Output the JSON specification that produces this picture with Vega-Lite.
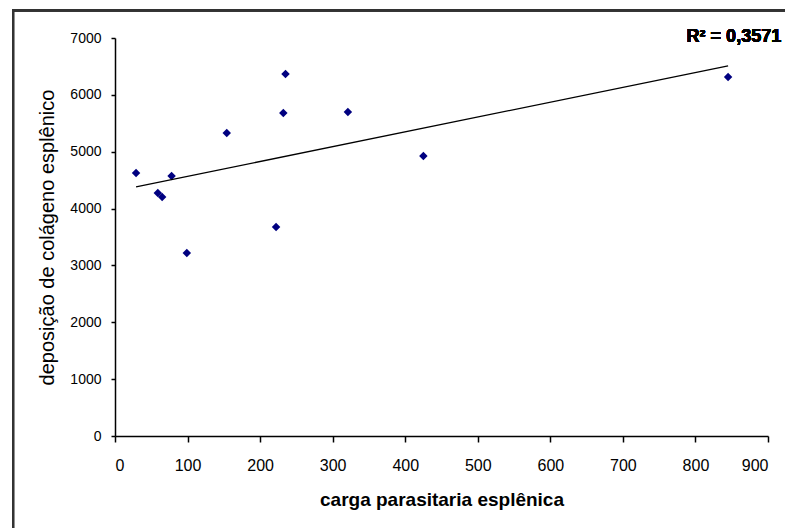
{
  "$schema": "https://vega.github.io/schema/vega-lite/v6.json",
  "width": 653,
  "height": 398,
  "autosize": {"type": "none"},
  "padding": {"left": 115, "top": 38, "right": 17, "bottom": 92},
  "background": "white",
  "config": {
    "view": {"stroke": null},
    "font": "Liberation Sans",
    "axis": {
      "domainColor": "#000000",
      "domainWidth": 1.5,
      "tickColor": "#000000",
      "tickWidth": 1.5,
      "labelColor": "#000000",
      "titleColor": "#000000",
      "labelFont": "Liberation Sans",
      "titleFont": "Liberation Sans",
      "grid": false
    }
  },
  "data": {
    "values": [
      {"carga": 29, "colageno": 4625},
      {"carga": 59, "colageno": 4274},
      {"carga": 65, "colageno": 4204},
      {"carga": 78, "colageno": 4573},
      {"carga": 99, "colageno": 3218},
      {"carga": 154, "colageno": 5329},
      {"carga": 222, "colageno": 3676},
      {"carga": 232, "colageno": 5680},
      {"carga": 235, "colageno": 6366},
      {"carga": 321, "colageno": 5698},
      {"carga": 425, "colageno": 4924},
      {"carga": 845, "colageno": 6314}
    ]
  },
  "layer": [
    {
      "mark": {"type": "rect", "fill": null, "stroke": "#333333", "strokeWidth": 2, "clip": false},
      "encoding": {
        "x": {"datum": -140.5, "type": "quantitative", "scale": {"domain": [0, 900]}},
        "x2": {"datum": 1000},
        "y": {"datum": 7490, "type": "quantitative", "scale": {"domain": [0, 7000]}},
        "y2": {"datum": -2000}
      }
    },
    {
      "mark": {"type": "point", "shape": "diamond", "filled": true, "color": "#000080", "size": 72, "opacity": 1},
      "encoding": {
        "x": {
          "field": "carga",
          "type": "quantitative",
          "scale": {"domain": [0, 900], "nice": false, "zero": true},
          "axis": {
            "values": [0, 100, 200, 300, 400, 500, 600, 700, 800, 900],
            "format": "d",
            "title": "carga parasitaria esplênica",
            "labelFontSize": 16,
            "tickSize": 6,
            "labelPadding": 15,
            "titleFontSize": 19,
            "titleFontWeight": "bold",
            "titlePadding": 17
          }
        },
        "y": {
          "field": "colageno",
          "type": "quantitative",
          "scale": {"domain": [0, 7000], "nice": false},
          "axis": {
            "values": [0, 1000, 2000, 3000, 4000, 5000, 6000, 7000],
            "format": "d",
            "title": "deposição de colágeno esplênico",
            "labelFontSize": 14,
            "tickSize": 4,
            "labelPadding": 10,
            "titleFontSize": 20,
            "titleFontWeight": "normal",
            "titlePadding": 12
          }
        }
      }
    },
    {
      "transform": [{"regression": "colageno", "on": "carga"}],
      "mark": {"type": "line", "color": "#000000", "strokeWidth": 1.3},
      "encoding": {
        "x": {"field": "carga", "type": "quantitative"},
        "y": {"field": "colageno", "type": "quantitative"}
      }
    },
    {
      "mark": {"type": "text", "text": "R² = 0,3571", "font": "Liberation Sans", "fontSize": 18, "fontWeight": "bold", "align": "center", "baseline": "middle", "color": "#000000", "clip": false},
      "encoding": {
        "x": {"datum": 853, "type": "quantitative"},
        "y": {"datum": 7020, "type": "quantitative"}
      }
    }
  ]
}
